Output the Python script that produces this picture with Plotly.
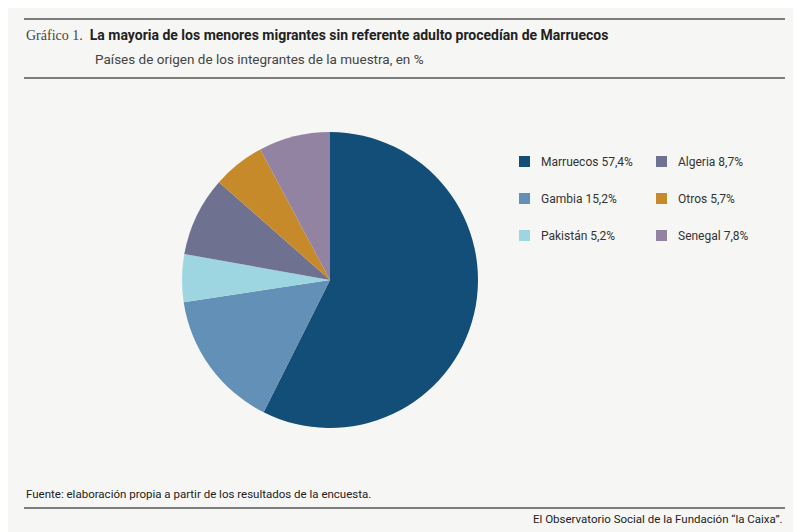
import plotly.graph_objects as go

labels = ["Marruecos", "Gambia", "Pakistán", "Algeria", "Otros", "Senegal"]
values = [57.4, 15.2, 5.2, 8.7, 5.7, 7.8]
colors = ["#124e78", "#6290b6", "#9dd6e0", "#6f7190", "#c68a2a", "#9283a3"]
value_text = ["57,4%", "15,2%", "5,2%", "8,7%", "5,7%", "7,8%"]

OFF = 8
W, H = 801 - OFF, 532 - OFF
def px(x): return (x - OFF) / W
def py(y): return 1 - (y - OFF) / H

bg = "#f6f6f4"
fig = go.Figure(go.Pie(
    labels=labels, values=values, sort=False, direction="clockwise", rotation=0,
    marker=dict(colors=colors, line=dict(width=0)), textinfo="none", hoverinfo="label+value",
    domain=dict(x=[px(182), px(478)], y=[py(428), py(132)]), showlegend=False))

F = "Roboto"
ann = []
shapes = []
leg = [(0, 0, 0), (1, 0, 1), (2, 0, 2), (3, 1, 0), (4, 1, 1), (5, 1, 2)]
for i, col, row in leg:
    x0 = 519 + col * 137
    y0 = 162 + row * 37
    shapes.append(dict(type="rect", xref="paper", yref="paper",
                       x0=px(x0), x1=px(x0 + 11), y0=py(y0 + 5), y1=py(y0 - 6),
                       fillcolor=colors[i], line=dict(width=0)))
    ann.append(dict(x=px(x0 + 20), y=py(y0), xref="paper", yref="paper", xanchor="left", yanchor="middle",
                    text=f"{labels[i]} {value_text[i]}", showarrow=False,
                    font=dict(family=F, size=12, color="#333")))

for y in [19, 78, 508]:
    shapes.append(dict(type="line", xref="paper", yref="paper", x0=px(24), x1=px(785),
                       y0=py(y), y1=py(y), line=dict(color="#555", width=1.5)))

ann += [
    dict(x=px(24), y=py(35), xref="paper", yref="paper", xanchor="left", yanchor="middle", showarrow=False,
         text="<span style='font-family:Liberation Serif;color:#444'>Gráfico 1.</span>  <b>La mayoria de los menores migrantes sin referente adulto procedían de Marruecos</b>",
         font=dict(family=F, size=14, color="#222")),
    dict(x=px(93), y=py(59), xref="paper", yref="paper", xanchor="left", yanchor="middle", showarrow=False,
         text="Países de origen de los integrantes de la muestra, en %", font=dict(family=F, size=13.5, color="#444")),
    dict(x=px(24), y=py(494), xref="paper", yref="paper", xanchor="left", yanchor="middle", showarrow=False,
         text="Fuente: elaboración propia a partir de los resultados de la encuesta.", font=dict(family=F, size=11.5, color="#222")),
    dict(x=px(785), y=py(519), xref="paper", yref="paper", xanchor="right", yanchor="middle", showarrow=False,
         text="El Observatorio Social de la Fundación “la Caixa”.", font=dict(family=F, size=11.5, color="#222")),
]

fig.update_layout(width=W, height=H, margin=dict(l=0, r=0, t=0, b=0),
                  paper_bgcolor=bg, plot_bgcolor=bg, annotations=ann, shapes=shapes)
fig.write_html("out.html")
